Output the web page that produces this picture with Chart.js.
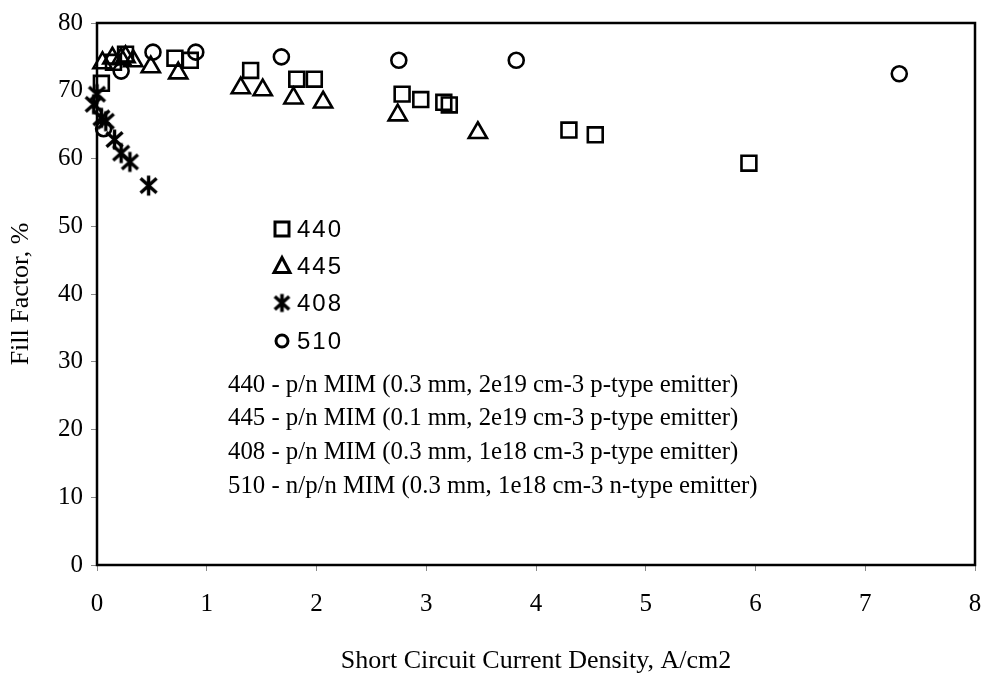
<!DOCTYPE html>
<html>
<head>
<meta charset="utf-8">
<script src="https://cdn.jsdelivr.net/npm/chart.js@4.4.1/dist/chart.umd.min.js"></script>
<style>
html, body { margin: 0; padding: 0; background: #fff; }
#chart { display: block; }
</style>
</head>
<body>
<canvas id="chart" width="982" height="681"></canvas>
<script>
// Fill factor vs short circuit current density
const x440 = [0.04, 0.15, 0.26, 0.71, 0.85, 1.40, 1.82, 1.98, 2.78, 2.95, 3.16, 3.21, 4.30, 4.54, 5.94];
const y440 = [71.1, 74.2, 75.4, 74.8, 74.5, 73.0, 71.7, 71.7, 69.5, 68.7, 68.3, 67.9, 64.2, 63.5, 59.3];

const x445 = [0.05, 0.14, 0.22, 0.26, 0.33, 0.49, 0.74, 1.31, 1.51, 1.79, 2.06, 2.74, 3.47];
const y445 = [74.1, 74.8, 74.7, 75.0, 74.4, 73.5, 72.6, 70.4, 70.1, 68.9, 68.3, 66.4, 63.8];

const x408 = [-0.03, 0.00, 0.04, 0.08, 0.16, 0.22, 0.30, 0.47];
const y408 = [68.0, 69.5, 66.0, 65.5, 62.8, 60.8, 59.5, 56.0];

const x510 = [0.06, 0.22, 0.51, 0.90, 1.68, 2.75, 3.82, 7.31];
const y510 = [64.4, 72.9, 75.7, 75.7, 75.0, 74.5, 74.5, 72.5];

const seriesNames = ['440', '445', '408', '510'];
const notes = [
    '440 - p/n MIM (0.3 mm, 2e19 cm-3 p-type emitter)',
    '445 - p/n MIM (0.1 mm, 2e19 cm-3 p-type emitter)',
    '408 - p/n MIM (0.3 mm, 1e18 cm-3 p-type emitter)',
    '510 - n/p/n MIM (0.3 mm, 1e18 cm-3 n-type emitter)'
];

const serif = '"Liberation Serif", "Times New Roman", serif';
const sans = '"Liberation Sans", Arial, sans-serif';

// asterisk marker shaped like the one in the figure (X with a vertical bar)
function makeAsterisk(size, lw) {
    const c = document.createElement('canvas');
    c.width = size; c.height = size;
    const g = c.getContext('2d');
    const m = size / 2, r = size / 2 - 1.5;
    g.strokeStyle = '#000';
    g.lineWidth = lw;
    g.beginPath();
    g.moveTo(m, m - r); g.lineTo(m, m + r);
    g.moveTo(m - r * 0.8, m - r * 0.72); g.lineTo(m + r * 0.8, m + r * 0.72);
    g.moveTo(m + r * 0.8, m - r * 0.72); g.lineTo(m - r * 0.8, m + r * 0.72);
    g.stroke();
    return c;
}
const star = makeAsterisk(23, 3.4);
const starSmall = makeAsterisk(21, 3.6);

const pts = (xs, ys) => xs.map((x, i) => ({ x: x, y: ys[i] }));

const base = { borderColor: '#000', backgroundColor: 'rgba(0,0,0,0)', borderWidth: 2.6, clip: false };

const datasets = [
    Object.assign({ label: seriesNames[0], data: pts(x440, y440), pointStyle: 'rect', pointRadius: 10.5 }, base),
    Object.assign({ label: seriesNames[1], data: pts(x445, y445), pointStyle: 'triangle', pointRadius: 10.5 }, base),
    Object.assign({ label: seriesNames[2], data: pts(x408, y408), pointStyle: star, pointRadius: 11 }, base),
    Object.assign({ label: seriesNames[3], data: pts(x510, y510), pointStyle: 'circle', pointRadius: 7.5 }, base)
];

// frame around plot area
const framePlugin = {
    id: 'frame',
    afterDatasetsDraw(chart) {
        const a = chart.chartArea, ctx = chart.ctx;
        ctx.save();
        ctx.strokeStyle = '#000';
        ctx.lineWidth = 2.5;
        ctx.strokeRect(a.left, a.top, a.right - a.left, a.bottom - a.top);
        ctx.restore();
    }
};

// legend + sample description inside plot
const legendPlugin = {
    id: 'insideLegend',
    afterDraw(chart) {
        const ctx = chart.ctx;
        const rows = [229, 266, 303, 341];
        ctx.save();
        ctx.strokeStyle = '#000';
        ctx.lineWidth = 3;
        rows.forEach((y, i) => {
            const x = 282;
            ctx.beginPath();
            if (i === 0) {
                ctx.rect(x - 7, y - 7, 14, 14);
                ctx.stroke();
            } else if (i === 1) {
                ctx.moveTo(x, y - 8.5); ctx.lineTo(x + 8, y + 6.5); ctx.lineTo(x - 8, y + 6.5); ctx.closePath();
                ctx.stroke();
            } else if (i === 2) {
                ctx.drawImage(starSmall, x - 10.5, y - 10.5);
            } else {
                ctx.arc(x, y, 6, 0, Math.PI * 2);
                ctx.stroke();
            }
        });
        ctx.fillStyle = '#000';
        ctx.font = '24px ' + sans;
        ctx.textBaseline = 'middle';
        if ('letterSpacing' in ctx) ctx.letterSpacing = '2px';
        rows.forEach((y, i) => ctx.fillText(seriesNames[i], 297, y + 1));
        if ('letterSpacing' in ctx) ctx.letterSpacing = '0px';
        ctx.font = '24.8px ' + serif;
        [385, 418, 452, 486].forEach((y, i) => ctx.fillText(notes[i], 228, y));
        ctx.restore();
    }
};

new Chart(document.getElementById('chart'), {
    type: 'scatter',
    data: { datasets: datasets },
    options: {
        responsive: false,
        animation: false,
        layout: { autoPadding: false, padding: { top: 22, right: 7, left: 2, bottom: 0 } },
        plugins: { legend: { display: false }, tooltip: { enabled: false } },
        scales: {
            x: {
                type: 'linear', min: 0, max: 8,
                ticks: { stepSize: 1, color: '#000', font: { family: serif, size: 25 }, padding: 18 },
                grid: { drawOnChartArea: false, tickLength: 6, color: '#888' },
                border: { display: false },
                title: { display: true, text: 'Short Circuit Current Density, A/cm2', color: '#000',
                         font: { family: serif, size: 26 }, padding: { top: 14 } },
                afterFit(scale) { scale.height = 116; scale.paddingRight = 0; scale.paddingLeft = 0; }
            },
            y: {
                type: 'linear', min: 0, max: 80,
                ticks: { stepSize: 10, color: '#000', font: { family: serif, size: 25 }, padding: 8 },
                grid: { drawOnChartArea: false, tickLength: 6, color: '#888' },
                border: { display: false },
                title: { display: true, text: 'Fill Factor, %', color: '#000',
                         font: { family: serif, size: 26 }, padding: { bottom: 2 } },
                afterFit(scale) { scale.width = 95; }
            }
        }
    },
    plugins: [framePlugin, legendPlugin]
});
</script>
</body>
</html>
